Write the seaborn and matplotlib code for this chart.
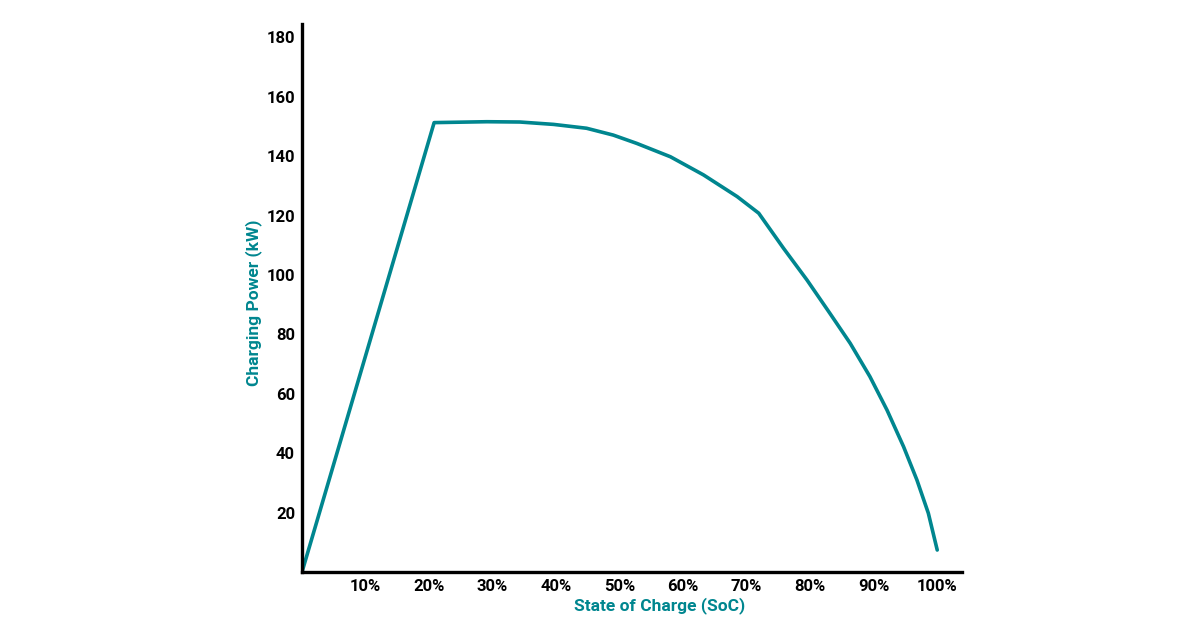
import matplotlib
matplotlib.use("Agg")
import matplotlib.pyplot as plt
import seaborn as sns
import pandas as pd

# Data
soc = [0, 20.8, 29.1, 34.3, 39.6, 44.8, 49.0, 52.7, 58.0, 63.2, 68.5, 71.9,
       75.8, 79.5, 83.1, 86.3, 89.4, 92.1, 94.7, 96.8, 98.6, 100]
power = [0, 151.3, 151.6, 151.5, 150.7, 149.4, 147.1, 144.3, 139.8, 133.7, 126.4, 120.8,
         109.0, 98.3, 87.1, 77.0, 65.8, 54.5, 42.2, 31.0, 19.8, 7.4]
x_ticks = [10, 20, 30, 40, 50, 60, 70, 80, 90, 100]
x_tick_labels = [f"{v}%" for v in x_ticks]
y_ticks = [20, 40, 60, 80, 100, 120, 140, 160, 180]

TEAL = "#00868F"

sns.set_theme(style="white")
plt.rcParams["font.family"] = ["Roboto", "DejaVu Sans"]

fig = plt.figure(figsize=(12, 6.27), dpi=100)
ax = fig.add_axes([302 / 1200, (627 - 572) / 627, 660 / 1200, 548 / 627])

df = pd.DataFrame({"soc": soc, "power": power})
sns.lineplot(data=df, x="soc", y="power", ax=ax, color=TEAL, linewidth=2.6,
             sort=False, estimator=None, solid_joinstyle="round")

ax.set_xlim(0, 103.9)
ax.set_ylim(0, 184.5)
ax.set_xticks(x_ticks)
ax.set_xticklabels(x_tick_labels)
ax.set_yticks(y_ticks)
ax.set_yticklabels([str(v) for v in y_ticks])
ax.tick_params(axis="both", length=0, labelsize=12, labelcolor="black")
ax.tick_params(axis="x", pad=5)
ax.tick_params(axis="y", pad=5)
for lab in ax.get_xticklabels() + ax.get_yticklabels():
    lab.set_fontweight("bold")

for side in ["top", "right"]:
    ax.spines[side].set_visible(False)
for side in ["left", "bottom"]:
    ax.spines[side].set_color("black")
    ax.spines[side].set_linewidth(2.4)

ax.set_xlabel("State of Charge (SoC)", color=TEAL, fontsize=12.5, fontweight="bold")
ax.set_ylabel("Charging Power (kW)", color=TEAL, fontsize=12.5, fontweight="bold")
ax.xaxis.label.set_va("center")
ax.yaxis.label.set_va("center")
ax.xaxis.set_label_coords((660 - 302) / 660, (572 - 606) / 548)
ax.yaxis.set_label_coords((254 - 302) / 660, (572 - 303) / 548)
ax.grid(False)

fig.savefig("out.png", dpi=100, facecolor="white")
